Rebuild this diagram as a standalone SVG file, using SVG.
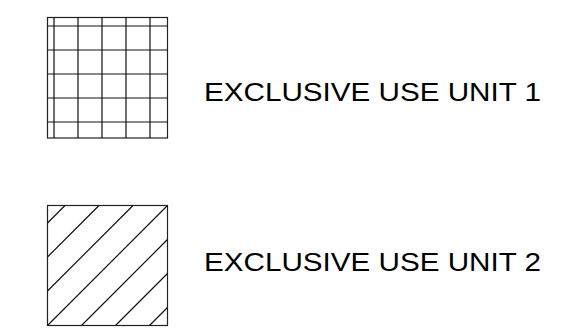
<svg xmlns="http://www.w3.org/2000/svg" width="567" height="332" viewBox="0 0 567 332">
<style>
.box{fill:#fff;stroke:#222;stroke-width:1.2}
.ln{stroke:#111;stroke-width:1.2;fill:none}
.lbl{font-family:"Liberation Sans",Arial,sans-serif;font-size:26.5px;fill:#000}
</style>
<rect width="567" height="332" fill="#fff"/>
<g id="unit1">
<rect class="box" x="47.5" y="17.5" width="120" height="120.5"/>
<path class="ln" d="M54,17.5V138M78,17.5V138M102,17.5V138M126,17.5V138M150,17.5V138M47.5,26H167.5M47.5,50H167.5M47.5,74H167.5M47.5,98H167.5M47.5,122H167.5"/>
<text class="lbl" x="204" y="101" textLength="337" lengthAdjust="spacingAndGlyphs">EXCLUSIVE USE UNIT 1</text>
</g>
<g id="unit2">
<rect class="box" x="47.5" y="205.5" width="120" height="120"/>
<path class="ln" d="M47.5,223L65,205.5M47.5,257L99,205.5M47.5,291L133,205.5M47.5,325.5L167.5,205.5M81.5,325.5L167.5,239.5M115.5,325.5L167.5,273.5M149.5,325.5L167.5,307.5"/>
<text class="lbl" x="204" y="271" textLength="337" lengthAdjust="spacingAndGlyphs">EXCLUSIVE USE UNIT 2</text>
</g>
</svg>
